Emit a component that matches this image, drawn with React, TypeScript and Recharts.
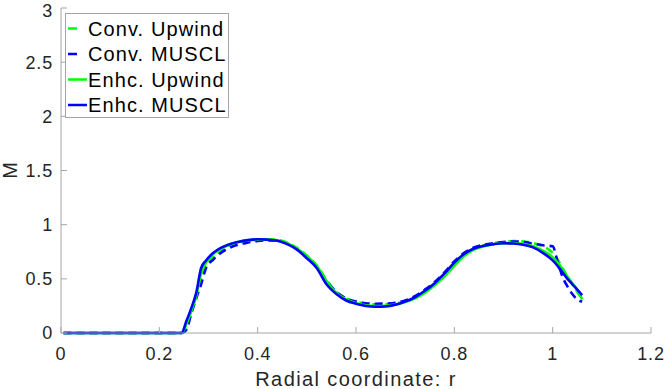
import React from 'react';
import { LineChart, Line, XAxis, YAxis } from 'recharts';

const r = [
  0.005, 0.05, 0.1, 0.15, 0.2, 0.245, 0.255, 0.265, 0.275, 0.285, 0.295, 0.31, 0.325, 0.34, 0.36, 0.38, 0.4,
  0.42, 0.44, 0.46, 0.48, 0.5, 0.52, 0.54, 0.56, 0.58, 0.6, 0.62, 0.64, 0.66, 0.68, 0.7, 0.72, 0.74, 0.76,
  0.78, 0.8, 0.82, 0.84, 0.86, 0.88, 0.9, 0.92, 0.94, 0.96, 0.98, 1.0, 1.01, 1.02, 1.03, 1.04, 1.05, 1.06,
];

const convUpwind = [
  0, 0, 0, 0, 0, 0, 0.05, 0.19, 0.33, 0.5, 0.62, 0.71, 0.76, 0.8, 0.83, 0.85, 0.86,
  0.865, 0.86, 0.835, 0.785, 0.715, 0.625, 0.49, 0.38, 0.32, 0.29, 0.272, 0.265, 0.265, 0.272, 0.29, 0.325, 0.38, 0.45,
  0.53, 0.63, 0.72, 0.78, 0.81, 0.83, 0.84, 0.848, 0.845, 0.83, 0.8, 0.74, 0.68, 0.6, 0.52, 0.45, 0.38, 0.31,
];

const convMuscl = [
  0, 0, 0, 0, 0, 0, 0.03, 0.18, 0.32, 0.45, 0.6, 0.68, 0.74, 0.78, 0.815, 0.835, 0.85,
  0.855, 0.85, 0.825, 0.775, 0.7, 0.61, 0.48, 0.38, 0.32, 0.29, 0.275, 0.27, 0.272, 0.28, 0.3, 0.34, 0.4, 0.47,
  0.56, 0.66, 0.74, 0.79, 0.815, 0.83, 0.84, 0.845, 0.84, 0.825, 0.81, 0.8, 0.66, 0.52, 0.43, 0.36, 0.31, 0.29,
];

const enhcUpwind = [
  0, 0, 0, 0, 0, 0, 0.08, 0.2, 0.34, 0.55, 0.65, 0.73, 0.78, 0.81, 0.84, 0.855, 0.862,
  0.862, 0.855, 0.83, 0.78, 0.71, 0.62, 0.48, 0.37, 0.31, 0.275, 0.255, 0.248, 0.25, 0.262, 0.285, 0.32, 0.37, 0.44,
  0.52, 0.62, 0.71, 0.77, 0.8, 0.82, 0.83, 0.83, 0.82, 0.8, 0.76, 0.7, 0.65, 0.59, 0.52, 0.46, 0.4, 0.31,
];

const enhcMuscl = [
  0, 0, 0, 0, 0, 0, 0.11, 0.23, 0.37, 0.6, 0.67, 0.74, 0.785, 0.815, 0.84, 0.857, 0.865,
  0.862, 0.852, 0.82, 0.77, 0.69, 0.6, 0.45, 0.36, 0.3, 0.27, 0.25, 0.243, 0.245, 0.26, 0.29, 0.33, 0.39, 0.46,
  0.55, 0.65, 0.73, 0.78, 0.805, 0.82, 0.828, 0.826, 0.815, 0.79, 0.74, 0.67, 0.62, 0.56, 0.5, 0.45, 0.4, 0.35,
];

const xTicks = [0, 0.2, 0.4, 0.6, 0.8, 1, 1.2];
const yTicks = [0, 0.5, 1, 1.5, 2, 2.5, 3];

const series = [
  { key: 'convUpwind', name: 'Conv. Upwind', color: '#00ff00', dash: '8 5' },
  { key: 'convMuscl', name: 'Conv. MUSCL', color: '#0000ff', dash: '8 5' },
  { key: 'enhcUpwind', name: 'Enhc. Upwind', color: '#00ff00', dash: undefined },
  { key: 'enhcMuscl', name: 'Enhc. MUSCL', color: '#0000ff', dash: undefined },
];

const data = r.map((x, i) => ({
  r: x,
  convUpwind: convUpwind[i],
  convMuscl: convMuscl[i],
  enhcUpwind: enhcUpwind[i],
  enhcMuscl: enhcMuscl[i],
}));

const FONT = '"Liberation Sans", Arial, sans-serif';
const AXIS = '#a6a6a6';

const LegendBox = () => (
  <svg width={164} height={105} style={{ display: 'block' }}>
    <rect x={0.5} y={0.5} width={163} height={104} fill="#fff" stroke={AXIS} />
    {series.map((s, i) => {
      const cy = 15.5 + i * 25.5;
      return (
        <g key={s.key}>
          <line x1={3} x2={s.dash ? 12 : 22} y1={cy} y2={cy} stroke={s.color} strokeWidth={2.5} />
          <text x={23} y={cy + 7} fontFamily={FONT} fontSize={20} fill="#000" letterSpacing={1.1}>
            {s.name}
          </text>
        </g>
      );
    })}
  </svg>
);

export default function App() {
  return (
    <div style={{ position: 'absolute', left: 0, top: 0, width: 664, height: 389, background: '#fff' }}>
      <LineChart width={664} height={389} data={data} margin={{ top: 8, right: 13, left: 0, bottom: 26 }}>
        <XAxis
          dataKey="r"
          type="number"
          domain={[0, 1.2]}
          ticks={xTicks}
          stroke={AXIS}
          tickSize={-6}
          tickMargin={20}
          height={30}
          tick={{ fill: '#262626', fontSize: 18, fontFamily: FONT, letterSpacing: 0.8 }}
          label={{
            value: 'Radial coordinate: r',
            position: 'bottom',
            offset: 9,
            fill: '#262626',
            fontSize: 20,
            fontFamily: FONT,
            letterSpacing: 1.4,
          }}
        />
        <YAxis
          type="number"
          domain={[0, 3]}
          ticks={yTicks}
          width={61}
          stroke={AXIS}
          tickSize={-6}
          tickMargin={14}
          tick={{ fill: '#262626', fontSize: 18, fontFamily: FONT, letterSpacing: 0.8 }}
          label={{
            content: (props: any) => {
              const vb = props.viewBox;
              const cx = 17;
              const cy = vb.y + vb.height / 2;
              return (
                <text
                  x={cx}
                  y={cy}
                  transform={`rotate(-90 ${cx} ${cy})`}
                  textAnchor="middle"
                  fontFamily={FONT}
                  fontSize={20}
                  fill="#262626"
                >
                  M
                </text>
              );
            },
          }}
        />
        {series.map((s) => (
          <Line
            key={s.key}
            dataKey={s.key}
            name={s.name}
            type="monotone"
            stroke={s.color}
            strokeWidth={2.6}
            strokeDasharray={s.dash}
            dot={false}
            isAnimationActive={false}
          />
        ))}
      </LineChart>
      <div style={{ position: 'absolute', left: 65, top: 13 }}>
        <LegendBox />
      </div>
    </div>
  );
}
